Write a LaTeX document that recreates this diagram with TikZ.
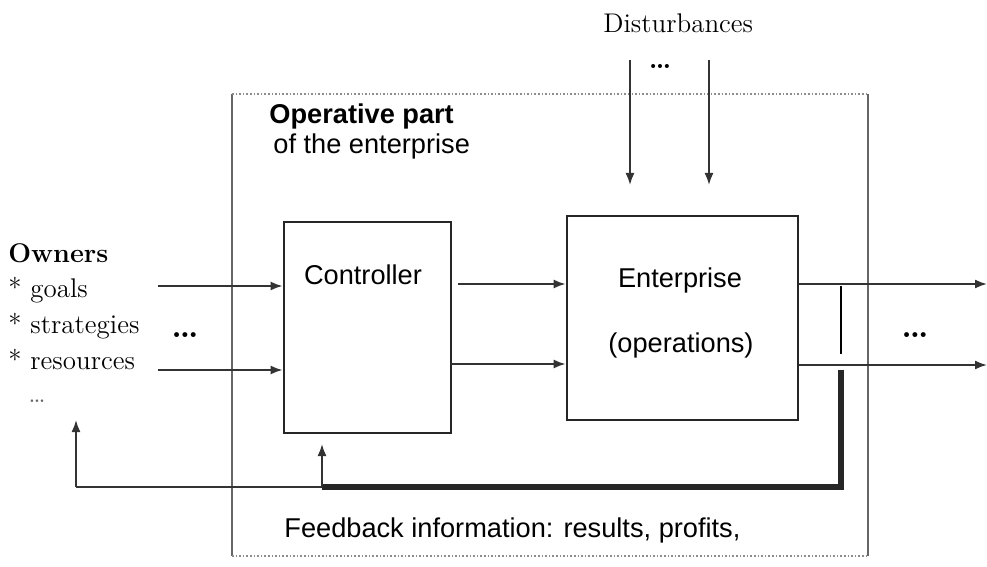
\documentclass[tikz,border=0pt]{standalone}
\usepackage{fontspec}
\newfontfamily\helv{Liberation Sans}
\usetikzlibrary{arrows.meta,calc,positioning}
\tikzset{block/.style={
            draw,
            line width=1.4pt,
            draw=black!85,
            inner sep=0pt
        },
        flow/.style={
            -{Latex[length=6pt,width=4.5pt]},
            line width=0.9pt,
            draw=black!80
        },
        feedback/.style={
            line width=2.6pt,
            draw=black!85
        },
        frameside/.style={
            line width=0.6pt,
            draw=black!60
        },
        frametop/.style={
            line width=0.8pt,
            draw=black!45,
            densely dotted
        },
        sanstext/.style={
            font=\helv\fontsize{13.6}{16}\selectfont,
            inner sep=0pt
        },
        seriftext/.style={
            font=\fontsize{13.5}{16}\selectfont,
            inner sep=0pt
        },
        dots/.style={
            font=\fontsize{17}{18}\selectfont\bfseries,
            inner sep=0pt
        }
    }

\begin{document}
\begin{tikzpicture}[x=0.5pt,y=-0.5pt]
        \useasboundingbox (0,0) rectangle (987,567);
        % operative part frame
        \draw[frameside] (232,94) -- (232,556);
        \draw[frameside] (868,94) -- (868,556);
        \draw[frametop] (232,94) -- (868,94);
        \draw[frametop] (232,556) -- (868,556);
        \node[sanstext,anchor=base west] (oppart) at (269,124) {\bfseries Operative part};
        \node[sanstext,anchor=base west] (opsub) at (273,154) {of the enterprise};

        % blocks
        \node[block,minimum width=83.5pt,minimum height=105.5pt] (controller) at (367.5,327.5) {};
        \node[block,minimum width=115.5pt,minimum height=102pt] (enterprise) at (682.5,318) {};
        \node[sanstext,anchor=base] (ctrltext) at (363,285) {Controller};
        \node[sanstext,anchor=base] (enttext) at (680,288) {Enterprise};
        \node[sanstext,anchor=base] (opstext) at (681,352) {(operations)};

        % owners
        \node[seriftext,anchor=base west] (owners) at (8,263) {\bfseries Owners};
        \node[seriftext,anchor=base west] (goals) at (8,298) {* goals};
        \node[seriftext,anchor=base west] (strategies) at (8,334) {* strategies};
        \node[seriftext,anchor=base west] (resources) at (8,370) {* resources};
        \node[seriftext,anchor=base west,black!60] (moreown) at (28,402) {\ldots};
        \node[dots,anchor=base] (moreinput) at (185,337) {\ldots};

        % inputs
        \coordinate (in1) at (158,286);
        \coordinate (in2) at (158,370);
        \draw[flow] (in1) -- (in1 -| controller.west);
        \draw[flow] (in2) -- (in2 -| controller.west);

        % controller to enterprise
        \coordinate (ce1) at (458,284);
        \coordinate (ce2) at (451,364);
        \draw[flow] (ce1) -- (ce1 -| enterprise.west);
        \draw[flow] (ce2) -- (ce2 -| enterprise.west);

        % outputs
        \coordinate (out1) at (987,284);
        \coordinate (out2) at (987,365);
        \draw[flow] (out1 -| enterprise.east) -- (out1);
        \draw[flow] (out2 -| enterprise.east) -- (out2);
        \node[dots,anchor=base] (moreoutput) at (915,337) {\ldots};

        % disturbances
        \node[seriftext,anchor=base west] (dist) at (603,33) {Disturbances};
        \coordinate (d1) at (630,60);
        \coordinate (d2) at (709,60);
        \draw[flow] (d1) -- ++(0,125);
        \draw[flow] (d2) -- ++(0,125);
        \node[dots,font=\fontsize{14}{15}\selectfont\bfseries,anchor=base] (moredist) at (660,69) {\ldots};

        % feedback loop
        \coordinate (fbtop) at (841,286);
        \coordinate (fbmid) at (841,354);
        \coordinate (fbstart) at (841,370);
        \coordinate (fbcorner) at (841,487);
        \coordinate (fbctrl) at (322,487);
        \coordinate (fbown) at (76,487);
        \draw[line width=1.1pt] (fbtop) -- (fbmid);
        \draw[feedback] (fbstart) -- (fbcorner) -- (fbctrl);
        \draw[line width=0.9pt,draw=black!80] (fbctrl) -- (fbown);
        \draw[flow] (fbown) -- (76,420);
        \draw[flow] (fbctrl) -- (fbctrl |- 0,444);
        \node[sanstext,anchor=base west] (fbtext) at (284,537) {Feedback information: results, profits,};
    \end{tikzpicture}
\end{document}
